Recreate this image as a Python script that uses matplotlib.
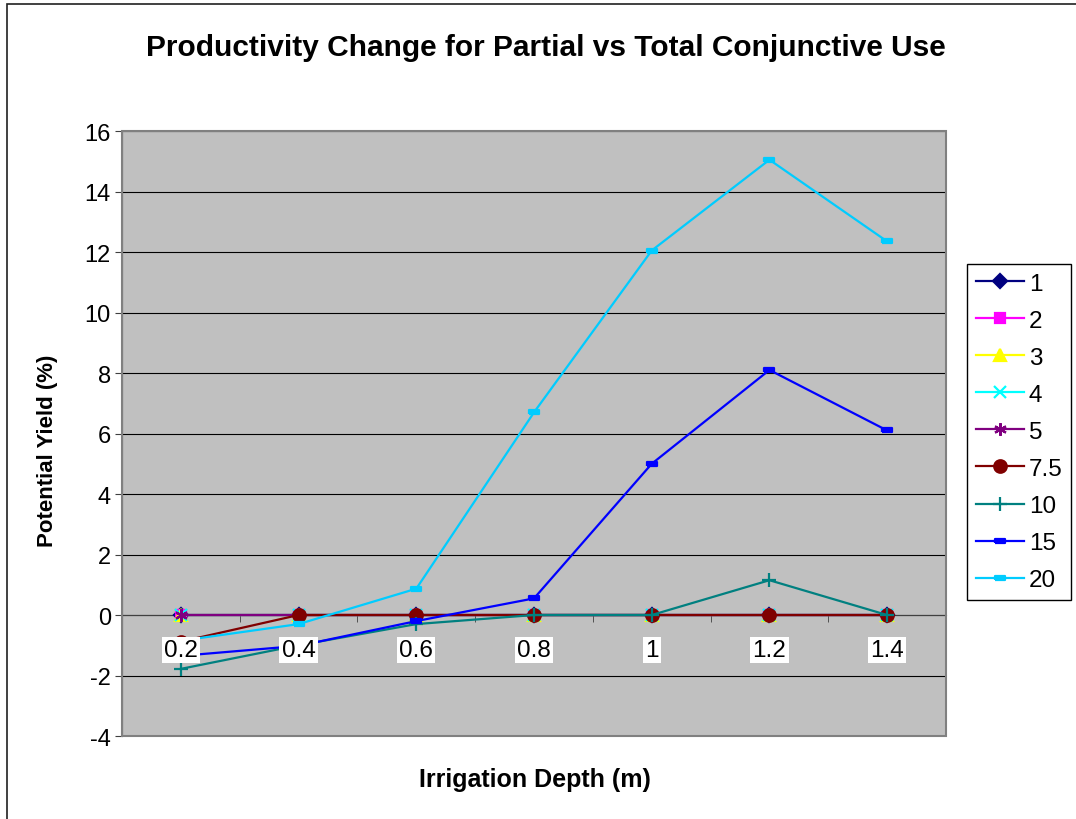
import numpy as np
import matplotlib
matplotlib.use("Agg")
from matplotlib import pyplot as plt
from matplotlib.patches import Rectangle

plt.rcParams['font.family'] = ['Liberation Sans', 'DejaVu Sans']
plt.rcParams['axes.unicode_minus'] = False

depths = ['0.2', '0.4', '0.6', '0.8', '1', '1.2', '1.4']
series_names = ['1', '2', '3', '4', '5', '7.5', '10', '15', '20']

s1 = [0, 0, 0, 0, 0, 0, 0]
s2 = [0, 0, 0, 0, 0, 0, 0]
s3 = [0, 0, 0, 0, 0, 0, 0]
s4 = [0, 0, 0, 0, 0, 0, 0]
s5 = [0, 0, 0, 0, 0, 0, 0]
s7_5 = [-0.88, 0, 0, 0, 0, 0, 0]
s10 = [-1.78, -1.0, -0.3, 0, 0, 1.15, 0]
s15 = [-1.35, -1.02, -0.2, 0.55, 5.0, 8.1, 6.1]
s20 = [-0.85, -0.3, 0.87, 6.7, 12.05, 15.05, 12.35]

colors = ['#000080', '#FF00FF', '#FFFF00', '#00FFFF', '#800080',
          '#800000', '#008080', '#0000FF', '#00CCFF']
dash = [(-1, -0.45), (1, -0.45), (1, 0.45), (-1, 0.45), (-1, -0.45)]
markers = ['D', 's', '^', 'x', (6, 2, 0), 'o', '+', dash, dash]
msizes = [7, 7, 8, 9, 9, 9, 10, 7, 7]

fig = plt.figure(figsize=(10.76, 8.2), dpi=100)
ax = fig.add_axes([0.1134, 0.1012, 0.7658, 0.7378])
ax.set_facecolor('#C0C0C0')

x = np.arange(len(depths))
data = [s1, s2, s3, s4, s5, s7_5, s10, s15, s20]
for vals, name, c, m, ms in zip(data, series_names, colors, markers, msizes):
    ax.plot(x, vals, color=c, lw=1.6, marker=m, markersize=ms,
            markerfacecolor=c, markeredgecolor=c, markeredgewidth=1.6,
            label=name, zorder=3)

ax.set_xlim(-0.5, 6.5)
ax.set_ylim(-4, 16)
ax.set_yticks(np.arange(-4, 17, 2))
ax.yaxis.grid(True, color='black', lw=0.8)
ax.set_axisbelow(True)
ax.tick_params(axis='y', labelsize=17, length=5, color='#404040', pad=3)

# category axis crosses at zero, labels sit in white boxes over the lines
ax.spines['bottom'].set_position(('data', 0))
ax.spines['bottom'].set_color('#404040')
ax.spines['left'].set_color('#404040')
ax.spines['top'].set_visible(False)
ax.spines['right'].set_visible(False)
ax.set_xticks(x)
ax.set_xticklabels([])
ax.set_xticks(np.arange(-0.5, 7, 1), minor=True)
ax.tick_params(axis='x', which='major', length=0)
ax.tick_params(axis='x', which='minor', length=5, color='#404040')
for xi, lab in zip(x, depths):
    ax.annotate(lab, xy=(xi, 0), xytext=(0, -25), textcoords='offset points',
                ha='center', va='center', fontsize=17.5, zorder=10,
                bbox=dict(facecolor='white', edgecolor='none', pad=1.5))

ax.add_patch(Rectangle((0, 0), 1, 1, transform=ax.transAxes, fill=False,
                       edgecolor='#808080', lw=1.5, zorder=5, clip_on=False))

fig.text(48 / 1076, 1 - 451 / 820, 'Potential Yield (%)', fontsize=16,
         fontweight='bold', rotation=90, ha='center', va='center')
fig.text(0.497, 0.049, 'Irrigation Depth (m)', fontsize=18,
         fontweight='bold', ha='center', va='center')
fig.text(0.507, 0.941, 'Productivity Change for Partial vs Total Conjunctive Use',
         fontsize=21.5, fontweight='bold', ha='center', va='center')

leg = ax.legend(loc='upper left', bbox_to_anchor=(967 / 1076, 1 - 265 / 820),
                bbox_transform=fig.transFigure, fontsize=17.5, frameon=True,
                fancybox=False, edgecolor='black', framealpha=1,
                handlelength=2.0, handletextpad=0.2, labelspacing=0.62,
                borderaxespad=0, borderpad=0.35)
leg.get_frame().set_linewidth(1.0)

fig.add_artist(Rectangle((7 / 1076, -0.1), 1.2, 1.1 - 5 / 820,
                         transform=fig.transFigure, fill=False,
                         edgecolor='#202020', lw=1.2))

fig.savefig('out.png', dpi=100)
